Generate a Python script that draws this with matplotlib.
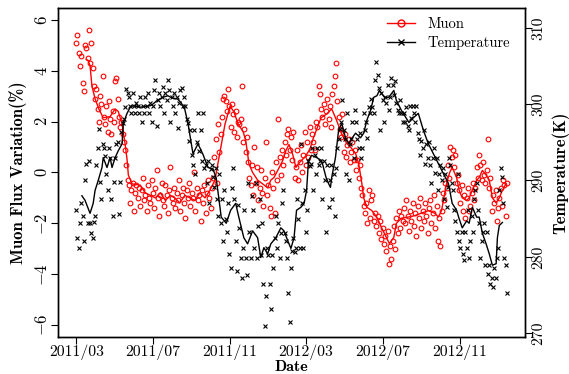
import numpy as np
import matplotlib.pyplot as plt
import matplotlib.dates as mdates
from matplotlib.lines import Line2D

plt.rcParams['mathtext.fontset'] = 'cm'

start = np.datetime64('2011-03-01')

# daily points, read every second day from 2011/03/01
muon_pts = [
    5.1, 5.4, 4.7, 4.2, 4.6, 3.5, 3.2, 5.0, 4.9, 4.5, 5.6, 4.3, 5.1, 4.1, 3.4,
    2.9, 3.3, 2.5, 2.0, 3.0, 2.7, 3.8, 2.2, 1.9, 2.6,
    1.6, 2.8, 2.1, 1.5, 2.4, 2.0, 3.6, 3.7, 2.9, 2.2,
    1.8, 2.0, 1.5, 1.2, 0.9, 0.3,
    -0.3, -0.5, -1.2, -0.7, -0.4, -1.5, -0.8, -0.5, -1.0, -0.6,
    -1.3, -0.7, -0.2, -1.1, -0.9, -1.5, -0.5, -1.0, -1.2, -0.3,
    -0.8, -1.4, -0.6, 0.1, -1.0, -1.7, -0.9, -0.4, -1.1, -1.3,
    -0.5, -0.9, -1.6, -0.7, 0.2, -1.0, -1.2, -0.6, -1.4, -0.8,
    -1.1, -0.3, -1.5, -0.9, -0.6, -1.2, -1.8, -0.7, -1.0, -0.4,
    -1.3, -0.8, -1.0, 0.0, -1.5, -0.6, -1.1, -0.9, -1.9, -0.7,
    -1.2, -0.5, -1.6, -0.8, -0.3, -1.0, -1.4, -0.6,
    -0.2, 0.6, 1.3, -0.4, 1.9, 0.8, 1.5, 2.2, 2.9, 3.0, 2.8, 2.4, 3.3, 2.6,
    1.8, 2.7, 2.3, 1.6, 2.4, 1.4, 2.0, 1.9,
    2.1, 3.4, 1.2, 1.7, 0.8, 1.4, 0.4, -0.2,
    -0.5, 0.3, -0.9, 1.0, -0.4, 0.2, -1.1, -0.6, 0.1, -0.8,
    -1.3, -0.2, 1.2, -0.9, -0.5, -1.4, -1.7, 0.0, -0.6, -1.6,
    0.4, -0.3, 2.1, 0.6, -0.1, 0.9, 0.3, 1.2, 0.7, 1.5,
    1.7, 0.9, 1.4, 0.5, 1.6, -0.2, 0.2,
    0.9, -0.3, 0.4, 1.1, 0.0, 0.7, 1.6, 0.3, 1.2, 0.6, 1.8, 0.9,
    1.5, 1.2, 0.9, 2.0, 1.8, 3.4, 3.1, 2.5, 2.2, 2.7,
    1.9, 2.4, 2.9, 2.1, 2.6, 1.8, 3.1, 3.4, 3.8, 4.3,
    2.8, 2.2, 1.7,
    1.4, 2.3, 0.8, 1.5, 0.6, 1.1, 1.3, 0.4, 0.8, 1.2,
    0.5, 0.9, 0.1, 0.5, -0.2, 0.3, -0.6, -0.9, -1.3, -1.6,
    -1.2, -2.0, -0.7, -1.8, -1.1, -0.9, -1.9, -1.6, -2.1, -1.7,
    -2.4, -1.9, -2.6, -2.2, -2.8, -2.5, -3.1, -2.3, -3.6, -2.9,
    -3.4, -2.7, -2.1, -3.0, -1.8, -2.4, -1.5, -2.2, -1.7, -1.9,
    -1.4, -2.0, -1.1, -1.7, -2.3, -1.5, -1.9, -1.2, -2.1, -1.6,
    -2.5, -1.3, -1.8, -1.0, -2.2, -1.5, -1.9, -1.2, -1.7, -2.4,
    -1.4, -1.1, -2.0, -1.6, -0.9, -2.2, -1.3, -2.7, -1.8, -2.9,
    -1.5, -0.8, -1.1, -0.4, -0.6,
    0.3, -0.2, 1.0, 0.6, 0.9, 0.2, 0.7, -0.4, -0.1, -0.7, -1.2, -0.5, -1.5, -0.9, -1.8,
    -1.0, -0.6, -1.5, -1.3, -0.8, -0.4, -1.1, -0.6, 0.2, -0.2,
    0.7, 0.3, -0.3, 0.4, -0.1, -0.4, 0.1, 1.3, -0.6, -0.2,
    -1.5, -0.9, -1.2, -0.7, -1.9, -1.4, -1.0, -0.6, -1.3, -0.3,
    -0.5, -1.7, -0.4,
]

temp_pts = [
    286.1, 282.5, 281.1, 284.4, 287.1, 285.4, 282.1, 290.0, 292.2, 284.4,
    292.6, 284.4, 283.1, 282.5, 284.6, 285.4,
    292.0, 294.3, 296.8, 289.8, 287.6, 294.8, 294.3, 293.2, 290.9, 288.7,
    294.3, 293.0, 287.6, 285.4, 289.8, 293.0, 294.8, 295.0, 285.6, 289.8,
    296.3, 297.5,
    298.0, 299.6, 302.0, 301.5, 300.9, 299.7, 298.8, 301.5, 299.7, 298.8,
    300.2, 299.7, 298.8, 300.9, 297.6, 299.7, 298.8, 300.9, 299.7, 301.5,
    298.8, 300.2, 297.6, 299.7,
    301.8, 303.1, 297.2, 300.5, 301.5, 299.7, 300.9, 302.3, 298.8, 301.5,
    300.5, 303.2, 301.9, 297.6, 300.9, 299.7, 301.5, 298.8, 300.9, 296.9,
    300.2, 301.8, 302.1, 299.7, 300.9,
    299.7, 298.0, 297.5, 295.2, 296.6, 293.3, 292.0, 296.6, 290.9, 295.0,
    298.8, 293.8, 296.6, 292.5, 298.8, 291.7, 292.0, 289.7, 292.5, 287.0,
    291.5, 292.0, 290.4, 289.2, 291.7, 287.6, 285.4,
    290.9, 284.4, 287.6, 282.1, 288.7, 285.0, 283.3, 287.0, 280.4, 278.6,
    289.0, 291.6, 287.6, 282.1, 278.2, 286.8, 283.8, 279.8, 277.2, 281.1,
    286.1, 279.8, 277.6, 289.7, 283.3, 279.8, 288.0, 286.1, 281.1, 289.7,
    279.9, 284.1, 287.6, 280.2, 284.4,
    276.5, 271.0, 274.9, 281.2, 280.2, 276.5, 273.2, 280.2, 278.6, 282.5,
    285.4, 281.1, 284.4, 279.9, 283.1, 287.0, 288.7, 283.1, 282.1, 279.9,
    275.3, 271.4, 278.6, 280.8, 282.5,
    280.6, 281.1, 287.6, 285.0, 281.1, 294.8, 287.1, 281.1, 288.7, 283.2,
    286.1, 292.6, 291.9,
    292.2, 294.3, 288.7, 293.3, 290.9, 294.3, 292.0, 292.6, 294.3, 287.6,
    292.6, 290.0, 283.2, 292.0, 286.5, 290.0, 292.0, 287.6, 290.9,
    285.4, 291.7, 294.3, 295.5, 296.8, 297.6, 300.5, 296.6, 295.5, 290.9,
    298.8, 290.0, 294.8, 295.5, 297.6, 293.0, 299.2, 297.6, 295.5, 294.3,
    296.2, 293.0, 294.3, 298.8, 296.6, 297.6, 295.6, 299.6, 298.8, 300.7,
    299.6, 298.8, 303.1, 305.5, 303.8, 302.1, 296.6, 301.5, 300.5, 297.6,
    300.9, 300.2, 302.5, 299.2, 300.9, 303.4, 302.5, 301.2, 303.0, 300.2,
    299.2, 298.8, 300.5, 298.8, 297.6,
    298.8, 297.6, 299.6, 297.2, 296.6, 299.8, 298.2, 299.8, 298.8, 297.6,
    299.8, 296.2, 295.5, 293.3, 295.2, 294.3, 296.6, 292.2, 294.8, 293.0,
    295.0, 292.0, 289.7, 293.0, 294.3, 291.0, 293.0, 288.7, 290.9, 292.0,
    290.0, 291.7, 287.6, 290.9, 286.5, 289.2,
    293.0, 292.0, 289.7, 288.7, 286.1, 284.7, 283.2, 290.9, 282.1, 281.1,
    283.2, 280.4, 279.6, 283.2, 281.1, 286.1, 279.9, 282.1, 285.4, 283.2,
    287.6, 288.7, 289.7, 286.1, 284.4, 279.9, 282.1, 283.2, 284.4, 278.9,
    283.2, 277.8, 278.9, 276.5, 277.2, 276.0, 278.6, 277.2, 279.9, 281.1,
    288.7, 291.6, 290.4, 287.0, 279.9, 278.9, 275.3,
]

# smoothed curves (day offset from 2011/03/01, value)
muon_line_days = [16, 19, 22, 25, 30, 36, 43, 54, 62, 67, 73, 78, 81, 83, 89,
                  102, 110, 118, 126, 134, 142, 150, 157, 165, 173, 181, 189,
                  197, 205, 213, 221, 229, 237, 245, 251, 258, 266, 270, 273,
                  275, 281, 289, 297, 305, 310, 315, 321, 329, 334, 339, 345,
                  350, 356, 364, 372, 378, 390, 399, 407, 415, 423, 431, 437,
                  445, 450, 455, 458, 463, 471, 479, 486, 494, 499, 506, 510,
                  518, 530, 539, 550, 561, 571, 577, 582, 590, 595, 599, 606,
                  610, 615, 622, 626, 631, 638, 642, 647, 653, 658, 663, 669,
                  674, 679, 685]
muon_line = [4.45, 4.4, 4.2, 3.4, 2.9, 2.5, 2.15, 2.2, 2.5, 2.4, 1.9, 1.1, 0.5,
             -0.1, -0.45, -0.5, -0.8, -0.9, -1.0, -0.8, -1.1, -0.9, -1.0, -1.2,
             -0.9, -1.0, -1.1, -0.8, -1.0, -0.7, -0.3, 0.8, 1.9, 2.6, 2.4, 1.9,
             1.6, 1.25, 0.75, 0.35, 0.0, -0.3, -0.45, -0.6, -0.3, -0.2, 0.08,
             0.47, 0.86, 1.1, 0.7, 0.2, 0.4, 0.6, 0.9, 1.37, 2.15, 2.3, 2.5,
             2.04, 1.5, 1.14, 1.0, 0.75, 0.35, -0.43, -1.0, -1.37, -1.5, -1.76,
             -2.15, -2.55, -2.8, -2.55, -2.0, -1.8, -1.75, -1.7, -1.6, -1.5,
             -1.6, -1.75, -1.5, -0.43, 0.0, 0.2, -0.2, -0.7, -1.0, -1.1, -1.0,
             -0.7, -0.3, -0.2, 0.08, -0.1, -0.3, -1.0, -1.2, -1.0, -0.7, -0.43]

temp_line_days = [9, 14, 22, 27, 30, 35, 41, 43, 49, 54, 57, 62, 67, 73, 75, 81,
                  86, 91, 102, 110, 118, 122, 129, 138, 146, 153, 161, 167, 173,
                  178, 181, 186, 194, 202, 210, 218, 223, 226, 231, 239, 246,
                  254, 259, 267, 273, 281, 289, 294, 299, 305, 310, 318, 326,
                  331, 337, 342, 347, 351, 358, 363, 367, 370, 375, 383, 391,
                  398, 402, 405, 407, 413, 418, 423, 429, 434, 439, 445, 453,
                  458, 463, 469, 474, 479, 483, 491, 498, 506, 510, 518, 530,
                  537, 545, 553, 561, 569, 577, 585, 593, 599, 606, 610, 615,
                  622, 626, 631, 638, 642, 647, 653, 658, 663, 669, 671, 674,
                  679]
temp_line = [288.0, 287.4, 285.7, 287.0, 288.7, 290.0, 291.7, 293.0, 291.7,
             293.0, 291.7, 293.0, 293.9, 294.8, 297.5, 298.8, 299.6, 299.8,
             299.6, 299.7, 299.8, 300.0, 300.5, 300.9, 301.1, 300.8, 300.7,
             300.2, 299.3, 297.5, 296.0, 293.5, 294.8, 293.4, 291.7, 291.5,
             290.3, 288.4, 285.2, 284.4, 286.1, 287.0, 285.2, 282.5, 281.7,
             283.4, 282.5, 279.9, 281.2, 280.4, 281.7, 282.5, 283.8, 283.4,
             282.1, 281.1, 282.5, 286.1, 286.5, 287.0, 288.7, 292.6, 293.3,
             293.0, 292.6, 290.4, 289.6, 289.1, 290.4, 293.0, 296.6, 297.5,
             295.6, 294.8, 295.5, 296.2, 295.6, 296.2, 297.9, 299.2, 300.9,
             301.1, 301.8, 300.9, 300.9, 301.8, 300.5, 299.2, 297.6, 298.2,
             298.8, 296.6, 294.8, 293.5, 292.2, 290.9, 289.6, 287.0, 286.1,
             285.0, 283.8, 284.7, 284.4, 286.5, 285.2, 285.2, 283.1, 281.7,
             280.4, 278.9, 279.1, 282.5, 284.1, 284.5]

tick_dates = ['2011-03-01', '2011-07-01', '2011-11-01',
              '2012-03-01', '2012-07-01', '2012-11-01']
tick_labels = ['2011/03', '2011/07', '2011/11', '2012/03', '2012/07', '2012/11']


def to_num(days):
    return mdates.date2num(start + np.array(days, dtype='timedelta64[D]'))


pt_x = to_num(np.arange(len(muon_pts)) * 2)

fig = plt.figure(figsize=(5.69, 3.74), dpi=100)
ax = fig.add_axes([0.102, 0.099, 0.8207, 0.8797])
ax2 = ax.twinx()

ax.plot(pt_x, muon_pts, 'o', mfc='none', mec='red', ms=3.4, mew=0.8)
ax.plot(to_num(muon_line_days), muon_line, '-', color='red', lw=1.0)
ax2.plot(pt_x[:len(temp_pts)], temp_pts, 'x', color='black', ms=3.4, mew=0.8)
ax2.plot(to_num(temp_line_days), temp_line, '-', color='black', lw=1.0)

ax.set_xlim(mdates.date2num(np.datetime64('2011-01-31')),
            mdates.date2num(np.datetime64('2013-02-13')))
ax.set_ylim(-6.47, 6.47)
ax2.set_ylim(269.5, 312.6)

tfont = dict(fontfamily='cmr10', fontsize=11.3)
ax.set_xticks(mdates.date2num(np.array(tick_dates, dtype='datetime64[D]')))
ax.set_xticklabels(tick_labels, **tfont)
yt = [-6, -4, -2, 0, 2, 4, 6]
ax.set_yticks(yt)
ax.set_yticklabels(['$%d$' % v for v in yt], rotation=90, va='center', fontsize=12)
rt = [270, 280, 290, 300, 310]
ax2.set_yticks(rt)
ax2.set_yticklabels([str(v) for v in rt], rotation=90, va='center', **tfont)

for a in (ax, ax2):
    a.tick_params(direction='out', length=5, width=0.8, pad=2)
    for s in a.spines.values():
        s.set_linewidth(1.0)
ax.tick_params(axis='x', pad=0.5)
ax.tick_params(axis='y', pad=0)
ax2.tick_params(axis='y', pad=-0.5)

lfont = dict(fontfamily='cmb10', fontsize=12)
ax.set_xlabel('Date', fontfamily='cmb10', fontsize=11.5)
ax.set_ylabel('Muon Flux Variation(%)', **lfont)
ax2.set_ylabel('Temperature(K)', **lfont)
ax.xaxis.set_label_coords(0.5, -0.069)
ax.yaxis.set_label_coords(-0.066, 0.5)
ax2.yaxis.set_label_coords(1.058, 0.5)

handles = [Line2D([], [], color='red', marker='o', mfc='none', ms=5, lw=1.0),
           Line2D([], [], color='black', marker='x', ms=5, lw=1.0)]
ax2.legend(handles, ['Muon', 'Temperature'], loc='upper left',
           bbox_to_anchor=(0.7045, 0.972), frameon=False, borderpad=0,
           borderaxespad=0, handlelength=1.9, handletextpad=0.9,
           labelspacing=0.35, prop={'family': 'cmr10', 'size': 10.5})

fig.savefig('out.png', dpi=100)
